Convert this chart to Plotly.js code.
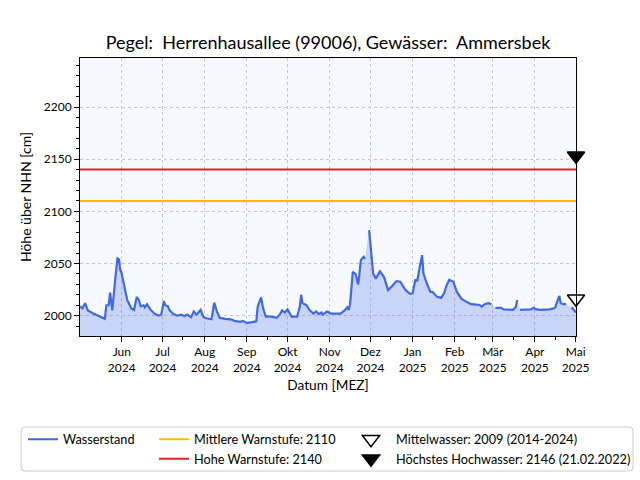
<!DOCTYPE html>
<html>
<head>
<meta charset="utf-8">
<script src="https://cdn.plot.ly/plotly-3.0.1.min.js"></script>
<style>body{margin:0;background:#fff}</style>
</head>
<body>
<div id="chart" style="width:640px;height:480px"></div>
<script>
// ---- data ----
const wsDates = [
 '2024-05-01','2024-05-03','2024-05-05','2024-05-07','2024-05-11','2024-05-14','2024-05-17','2024-05-19 12:00','2024-05-20 16:00','2024-05-22 08:00',
 '2024-05-23 10:00','2024-05-25','2024-05-27 08:00','2024-05-28 20:00','2024-05-30','2024-05-30 18:00','2024-05-31 16:00','2024-06-03','2024-06-05','2024-06-08',
 '2024-06-10','2024-06-12','2024-06-13 12:00','2024-06-15','2024-06-17','2024-06-18','2024-06-19 12:00','2024-06-22','2024-06-25','2024-06-28',
 '2024-06-30','2024-07-02','2024-07-03','2024-07-05','2024-07-06','2024-07-09','2024-07-12','2024-07-15','2024-07-17','2024-07-19',
 '2024-07-22','2024-07-24','2024-07-26','2024-07-29','2024-07-31','2024-08-02','2024-08-06','2024-08-07','2024-08-08','2024-08-10',
 '2024-08-12','2024-08-16','2024-08-20','2024-08-23','2024-08-27','2024-08-29','2024-09-01','2024-09-04','2024-09-08','2024-09-09',
 '2024-09-11 12:00','2024-09-13','2024-09-15','2024-09-19','2024-09-23','2024-09-25','2024-09-27','2024-09-29','2024-10-01','2024-10-04',
 '2024-10-08','2024-10-10','2024-10-11','2024-10-12','2024-10-15','2024-10-17','2024-10-20','2024-10-22','2024-10-24','2024-10-26',
 '2024-10-27','2024-10-30','2024-11-02','2024-11-06','2024-11-09','2024-11-12','2024-11-14','2024-11-15','2024-11-16','2024-11-18',
 '2024-11-20','2024-11-22','2024-11-24','2024-11-26','2024-11-27','2024-11-28','2024-11-30','2024-12-03','2024-12-05','2024-12-08',
 '2024-12-11','2024-12-14','2024-12-17','2024-12-20','2024-12-23','2024-12-26 12:00','2024-12-30','2025-01-01','2025-01-03','2025-01-04 12:00',
 '2025-01-06','2025-01-08','2025-01-09','2025-01-11','2025-01-14','2025-01-16','2025-01-19','2025-01-22','2025-01-24','2025-01-26',
 '2025-01-28','2025-01-31','2025-02-02 12:00','2025-02-06','2025-02-10','2025-02-13','2025-02-17','2025-02-19','2025-02-21','2025-02-23',
 '2025-02-26','2025-02-28','2025-03-01','2025-03-03','2025-03-07','2025-03-09','2025-03-13','2025-03-16','2025-03-18','2025-03-19',
 '2025-03-20','2025-03-21','2025-03-25','2025-03-29','2025-03-31','2025-04-02','2025-04-05','2025-04-09','2025-04-12','2025-04-15',
 '2025-04-16','2025-04-17','2025-04-19','2025-04-20','2025-04-22','2025-04-24','2025-04-25','2025-04-28','2025-04-30','2025-05-01 06:00'
];
const wsValues = [
 2009,2007,2012,2005,2002,2000.5,1999,1997,2010,2010,
 2022,2005,2037,2055,2054,2044,2042,2028,2015,2007,
 2005.5,2018,2015,2009,2010,2008,2011,2006,2002,2000,
 2001,2014,2010,2009,2005.5,2001.5,2000,2001,1999.5,2001,
 1998.5,2004,2001,2005.5,1999,1997.5,1996.5,2004,2012.5,2004,
 1998,1997,1996.5,1995,1994,1995,1993,1993.5,1994.5,2008.5,
 2017.5,2007,1999,1999,1998,2000.5,2005,2003,2006,1999,
 1999,2008.5,2020,2012,2010,2005.5,2002,2004,2001.5,2003,
 2001,2004,2002,2002,2002,2005,2008,2005.5,2011,2042,
 2040,2030,2053.5,2056.5,2054.5,null,2082,2040.5,2035.5,2042.5,
 2037,2024.5,2028.5,2033,2032.5,2025,2021,2021.5,2034,2033.5,
 2045,2058,2040.5,2032.5,2023,2022.5,2018,2017,2021,2029,
 2034.5,2032.5,2023,2016,2013,2011,2010.5,2010.3,2008.7,2011,
 2012,2011,null,2007.5,2007.5,2006,2005.5,2005.5,2008.5,2015,
 null,2005.5,2005.5,2006,2007.5,2006,2005.5,2005.5,2006,2007,
 2008,2012,2019,2012,2011,2011,null,2008,2005.5,2003
];
const monthTickDates = ['2024-06-01','2024-07-01','2024-08-01','2024-09-01','2024-10-01','2024-11-01',
  '2024-12-01','2025-01-01','2025-02-01','2025-03-01','2025-04-01','2025-05-01'];
const monthTickLabels = ['Jun<br>2024','Jul<br>2024','Aug<br>2024','Sep<br>2024','Okt<br>2024','Nov<br>2024',
  'Dez<br>2024','Jan<br>2025','Feb<br>2025','Mär<br>2025','Apr<br>2025','Mai<br>2025'];
const midMonthTicks = ['2024-05-16','2024-06-16','2024-07-16','2024-08-16','2024-09-16','2024-10-16',
  '2024-11-16','2024-12-16','2025-01-16','2025-02-16','2025-03-16','2025-04-16'];
const warnMittel = 2110;
const warnHoch = 2140;
const mittelwasser = 2009;
const hoechstesHW = 2146;
const markerDate = '2025-05-01 06:00';
const xRange = ['2024-05-01 06:00', '2025-05-01 06:00'];
const yRange = [1980.5, 2247];

const labelWS = 'Wasserstand';
const labelMW = 'Mittlere Warnstufe: ' + warnMittel;
const labelHW = 'Hohe Warnstufe: ' + warnHoch;
const labelMittel = 'Mittelwasser: ' + mittelwasser + ' (2014-2024)';
const labelHHW = 'Höchstes Hochwasser: ' + hoechstesHW + ' (21.02.2022)';

// ---- geometry helpers (layout only) ----
const M = {l: 80, r: 64, t: 58, b: 144, autoexpand: false};
const PW = 640 - M.l - M.r, PH = 480 - M.t - M.b;
const px2x = px => (px - M.l) / PW;
const py2y = py => (480 - M.b - py) / PH;

const blue = '#4169e1';
const traces = [
  {x: wsDates, y: wsValues, mode: 'lines', line: {color: blue, width: 2.2}, fill: 'tozeroy',
   fillcolor: 'rgba(65,105,225,0.25)', connectgaps: false, showlegend: false, hoverinfo: 'skip'},
  {x: [null], y: [null], mode: 'lines', line: {color: blue, width: 2}, name: labelWS, legend: 'legend'},
  {x: xRange, y: [warnMittel, warnMittel], mode: 'lines', line: {color: '#ffbb00', width: 2}, name: labelMW, legend: 'legend2'},
  {x: xRange, y: [warnHoch, warnHoch], mode: 'lines', line: {color: '#d62728', width: 2}, name: labelHW, legend: 'legend2'},
  {x: [markerDate], y: [mittelwasser], mode: 'markers', cliponaxis: false, showlegend: false, hoverinfo: 'skip',
   marker: {symbol: 'triangle-up', angle: 180, standoff: 7.5, size: 15, color: 'white', line: {color: 'black', width: 1.5}}},
  {x: [markerDate], y: [hoechstesHW], mode: 'markers', cliponaxis: false, showlegend: false, hoverinfo: 'skip',
   marker: {symbol: 'triangle-up', angle: 180, standoff: 7.5, size: 15, color: 'black', line: {color: 'black', width: 1.5}}},
  {x: [null], y: [null], mode: 'markers', name: labelMittel, legend: 'legend3',
   marker: {symbol: 'triangle-down', size: 15, color: 'white', line: {color: 'black', width: 1.5}}},
  {x: [null], y: [null], mode: 'markers', name: labelHHW, legend: 'legend3',
   marker: {symbol: 'triangle-down', size: 15, color: 'black', line: {color: 'black', width: 1.5}}}
];

const legBase = {xanchor: 'left', yanchor: 'top', bgcolor: 'rgba(0,0,0,0)', borderwidth: 0,
  font: {size: 12.7, color: '#000'}, orientation: 'v', traceorder: 'normal', tracegroupgap: 0};

// rounded legend frame
function roundRect(x0p, y0p, x1p, y1p, rp) {
  const X = v => px2x(v), Y = v => py2y(v);
  return 'M' + X(x0p + rp) + ',' + Y(y0p) +
    ' L' + X(x1p - rp) + ',' + Y(y0p) + ' Q' + X(x1p) + ',' + Y(y0p) + ' ' + X(x1p) + ',' + Y(y0p + rp) +
    ' L' + X(x1p) + ',' + Y(y1p - rp) + ' Q' + X(x1p) + ',' + Y(y1p) + ' ' + X(x1p - rp) + ',' + Y(y1p) +
    ' L' + X(x0p + rp) + ',' + Y(y1p) + ' Q' + X(x0p) + ',' + Y(y1p) + ' ' + X(x0p) + ',' + Y(y1p - rp) +
    ' L' + X(x0p) + ',' + Y(y0p + rp) + ' Q' + X(x0p) + ',' + Y(y0p) + ' ' + X(x0p + rp) + ',' + Y(y0p) + ' Z';
}

const axisCommon = {showline: true, linecolor: '#000', linewidth: 1, mirror: true, ticks: 'outside',
  ticklen: 5, tickwidth: 1, tickcolor: '#000', showgrid: true, gridcolor: '#c8c8c8', griddash: 'dot',
  gridwidth: 1, zeroline: false, automargin: false, tickfont: {size: 12, color: '#000'}};

const layout = {
  width: 640, height: 480, margin: M,
  paper_bgcolor: '#ffffff', plot_bgcolor: '#f8f8ff',
  font: {family: 'Lato, "Open Sans", sans-serif', size: 12, color: '#000'},
  title: {text: 'Pegel:  Herrenhausallee (99006), Gewässer:  Ammersbek', font: {size: 18, color: '#000'},
    x: 0.5, xref: 'paper', xanchor: 'center', y: 1 - 43 / 480, yref: 'container', yanchor: 'middle'},
  xaxis: Object.assign({}, axisCommon, {type: 'date', range: xRange, tickmode: 'array',
    tickvals: monthTickDates, ticktext: monthTickLabels, tickangle: 0,
    minor: {tickmode: 'array', tickvals: midMonthTicks, ticks: 'outside', ticklen: 3, tickcolor: '#000', showgrid: false},
    title: {text: 'Datum [MEZ]', font: {size: 13.7, color: '#000'}, standoff: 6}}),
  yaxis: Object.assign({}, axisCommon, {range: yRange, tickmode: 'linear', tick0: 2000, dtick: 50,
    minor: {dtick: 10, tick0: 2000, ticks: 'outside', ticklen: 3, tickcolor: '#000', showgrid: false},
    title: {text: 'Höhe über NHN [cm]', font: {size: 14, color: '#000'}, standoff: 8}}),
  legend: Object.assign({}, legBase, {x: px2x(23), y: py2y(424.5)}),
  legend2: Object.assign({}, legBase, {x: px2x(154), y: py2y(424.5)}),
  legend3: Object.assign({}, legBase, {x: px2x(346), y: py2y(424.5), itemwidth: 40}),
  shapes: [{type: 'path', xref: 'paper', yref: 'paper', path: roundRect(21, 427, 633, 471, 4),
    line: {color: '#cccccc', width: 1}, fillcolor: 'rgba(255,255,255,0.8)', layer: 'below'}],
  showlegend: true
};

Plotly.newPlot('chart', traces, layout, {displayModeBar: false, staticPlot: true});
</script>
</body>
</html>
